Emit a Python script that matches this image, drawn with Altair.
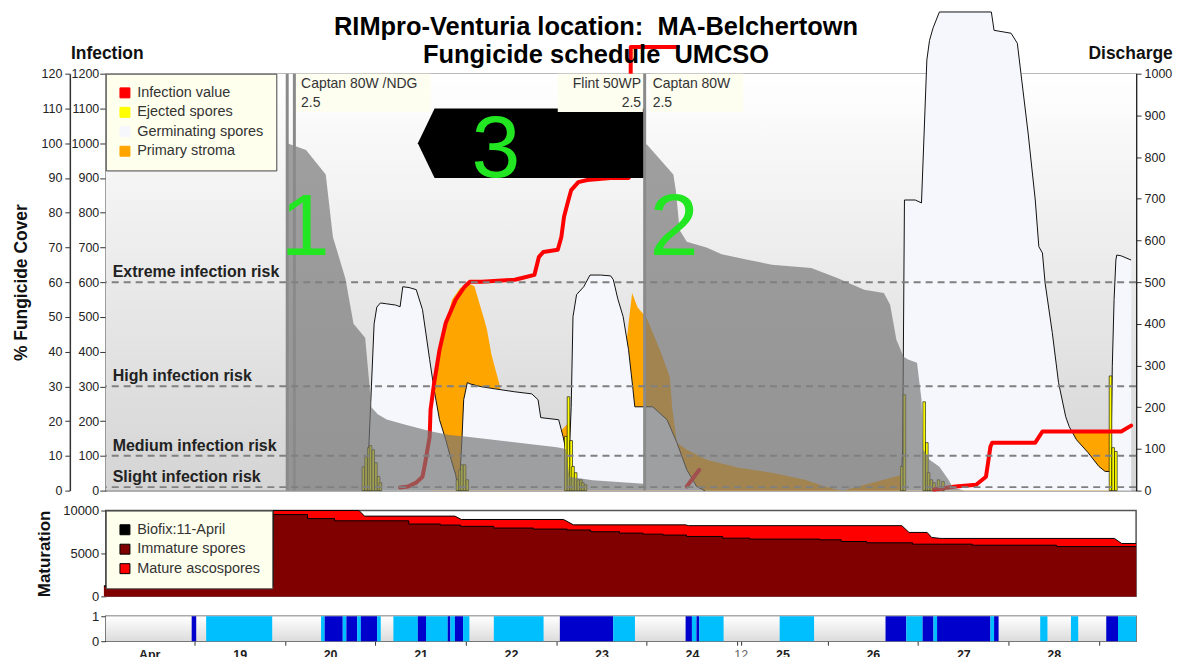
import altair as alt
import pandas as pd

FONT = "Liberation Sans"
X_DOMAIN = [0.02, 11.41]          # days after 18 April 00:00

# ---------------- main panel ----------------
# Fungicide cover (%), one piece per application
cover1_t = [1.99, 2.10, 2.20, 2.42, 2.50, 2.64, 2.73, 2.86, 2.93, 3.00, 3.10, 3.30, 3.60, 3.80, 4.00, 4.50, 5.00, 5.10, 5.14, 5.40, 5.97, 5.98]
cover1_v = [100, 99, 98, 91, 73, 61, 48, 44, 24, 22, 20.5, 19, 17, 16, 15.5, 14, 12.5, 12, 4, 3, 2, 0]
cover2_t = [5.98, 6.01, 6.30, 6.33, 6.37, 6.45, 6.67, 6.84, 7.14, 7.40, 7.84, 8.13, 8.43, 8.65, 8.72, 8.79, 8.87, 8.92, 9.02, 9.07, 9.09, 9.16, 9.27, 9.37, 9.42, 9.50, 9.55]
cover2_v = [100, 99.5, 91, 86, 75, 71.6, 70, 68, 66.4, 65, 64.1, 61.2, 57.8, 56.9, 53.5, 43.4, 38.5, 37.7, 36.8, 26.2, 11.8, 8.9, 6.9, 3.2, 0.9, 0.3, 0]

# Germinating spores (discharge scale)
germ1_t = [2.87, 2.90, 2.93, 2.96, 2.99, 3.03, 3.10, 3.20, 3.25, 3.28, 3.35, 3.43, 3.50, 3.58, 3.63, 3.69, 3.76, 3.82, 3.87, 3.89, 3.91]
germ1_v = [0, 100, 250, 400, 440, 450, 448, 445, 441, 489, 487, 482, 434, 314, 242, 170, 122, 74, 38, 14, 0]
germ2_t = [3.91, 3.94, 3.96, 4.00, 4.03, 4.16, 4.31, 4.53, 4.72, 4.79, 4.82, 5.02, 5.07, 5.10, 5.12, 5.14]
germ2_v = [0, 122, 218, 259, 256, 249, 244, 237, 232, 218, 175, 170, 129, 98, 50, 0]
germ3_t = [5.12, 5.14, 5.16, 5.18, 5.22, 5.30, 5.37, 5.49, 5.60, 5.63, 5.68, 5.74, 5.80, 5.85, 5.87, 6.07, 6.23, 6.34, 6.45, 6.56, 6.65]
germ3_v = [40, 98, 200, 417, 470, 489, 517, 517, 515, 506, 460, 417, 338, 242, 201, 201, 170, 115, 50, 10, 0]
germ4_t = [8.84, 8.86, 8.88, 9.00, 9.07, 9.10, 9.13, 9.16, 9.20, 9.27, 9.85, 9.88, 10.07, 10.14, 10.18, 10.26, 10.34, 10.38, 10.42, 10.45, 10.53, 10.60, 10.68, 10.72, 10.80, 10.93, 11.05, 11.12, 11.18, 11.19]
germ4_v = [0, 100, 697, 697, 690, 860, 1033, 1080, 1110, 1148, 1148, 1104, 1097, 1073, 1001, 858, 697, 585, 570, 498, 379, 259, 177, 153, 122, 91, 58, 46, 46, 0]
germ5_t = [11.18, 11.20, 11.22, 11.24, 11.25, 11.30, 11.41]
germ5_v = [0, 297, 458, 553, 565, 563, 553]

# Primary stroma (discharge scale)
stroma1_t = [3.60, 3.63, 3.69, 3.76, 3.83, 3.92, 4.02, 4.08, 4.14, 4.19, 4.22, 4.27, 4.33, 4.36, 4.38, 4.40]
stroma1_v = [240, 259, 338, 402, 458, 486, 496, 490, 446, 410, 386, 326, 278, 254, 230, 0]
stroma2_t = [5.75, 5.80, 5.84, 5.90, 5.98, 6.01, 6.15, 6.26, 6.29, 6.34, 6.45, 6.67, 7.03, 7.40, 7.77, 7.99, 8.13, 8.20]
stroma2_v = [300, 400, 474, 440, 420, 410, 338, 273, 194, 115, 98, 74, 55, 43, 26, 10, 2, 0]
stroma3_t = [10.62, 11.17, 11.18]
stroma3_v = [140, 140, 0]

# Ejected spores (discharge scale)
eject_t = [2.84, 2.87, 2.90, 2.92, 2.95, 2.98, 3.01, 3.03, 3.89, 3.92, 3.94, 3.97, 4.00,
           5.10, 5.13, 5.16, 5.18, 5.21, 5.24, 5.27, 5.29, 5.32, 8.85, 8.88,
           9.10, 9.13, 9.15, 9.18, 9.21, 9.26, 9.31, 11.18, 11.21, 11.24]
eject_v = [57, 81, 103, 108, 98, 67, 34, 19, 26, 50, 62, 62, 26,
           130, 225, 120, 58, 43, 26, 26, 19, 14, 58, 230,
           213, 115, 43, 26, 19, 26, 22, 275, 103, 94]

# Infection value
inf1_t = [3.25, 3.34, 3.43, 3.50, 3.53, 3.58, 3.59, 3.63, 3.69, 3.76, 3.87, 3.97, 4.03, 4.16, 4.53, 4.61, 4.75, 4.80, 4.85, 5.01, 5.05, 5.08, 5.12, 5.16, 5.24, 5.34, 5.60, 5.80, 5.82, 5.825, 6.35]
inf1_v = [9, 12, 23, 40, 80, 155, 233, 310, 405, 483, 549, 587, 601, 601, 607, 612, 621, 673, 687, 693, 730, 788, 828, 865, 888, 894, 900, 900, 906, 1277, 1277]
inf2_t = [6.45, 6.59]
inf2_v = [12, 60]
inf3_t = [9.21, 9.45, 9.68, 9.79, 9.84, 9.86, 10.34, 10.42, 11.30, 11.41]
inf3_v = [3, 12, 17, 40, 127, 138, 138, 170, 170, 187]

risk_levels = [10, 100, 300, 600]
risk_names = ["Slight infection risk", "Medium infection risk", "High infection risk", "Extreme infection risk"]

spray_t = [1.99, 2.07, 5.98]
label_t0 = [2.09, 5.01, 6.04]
label_t1 = [3.59, 5.96, 7.08]
label_tx = [2.145, 5.94, 6.07]
label_name = ["Captan 80W /NDG", "Flint 50WP", "Captan 80W"]
label_rate = ["2.5", "2.5", "2.5"]
label_side = ["left", "right", "left"]
label_lo = [1090, 1090, 1090]
label_hi = [1200, 1200, 1200]

arrow_t = [3.448, 3.635, 5.98]
arrow_lo = [1000, 900, 900]
arrow_hi = [1000, 1100, 1100]

note_text = ["1", "2", "3"]
note_t = [2.19, 6.31, 4.32]
note_v = [678, 678, 903]

main_series = ["Infection value", "Ejected spores", "Germinating spores", "Primary stroma"]
main_colors = ["#ff0000", "#ffff00", "#f6f7fd", "#ffa500"]

# ---------------- maturation panel ----------------
mat_tot_t = [0.0, 1.86, 1.87, 2.82, 2.88, 3.88, 3.95, 5.08, 5.19, 6.43, 6.46, 8.82, 8.90, 9.10, 9.15, 9.24, 9.27, 11.17, 11.25, 11.41]
mat_tot_v = [1200, 1200, 10000, 10000, 9350, 9350, 8960, 8960, 8330, 8330, 8240, 8240, 7450, 7450, 6860, 6760, 6750, 6750, 6160, 6160]
mat_imm_t = [0.0, 1.87, 2.25, 2.55, 3.37, 3.72, 3.94, 4.31, 4.75, 5.12, 5.38, 5.70, 5.96, 6.18, 6.44, 6.84, 7.14, 7.91, 8.15, 8.43, 8.94, 9.60, 10.53, 11.41]
mat_imm_v = [1200, 9530, 9060, 8800, 8430, 8310, 8160, 7960, 7840, 7730, 7530, 7370, 7250, 7140, 6980, 6780, 6670, 6590, 6390, 6240, 6080, 5960, 5800, 5800]
mat_series = ["Biofix:11-April", "Immature spores", "Mature ascospores"]
mat_colors = ["#000000", "#800000", "#ff0000"]

# ---------------- wetness strip ----------------
wet_t0 = [0.97, 1.13, 2.40, 2.44, 2.64, 2.68, 2.80, 2.84, 3.02, 3.20, 3.47, 3.56, 3.80, 3.83, 3.88, 3.97, 4.31, 5.04, 5.63, 6.43, 6.50, 6.55, 6.58, 7.47, 8.64, 8.87, 9.05, 9.17, 9.21, 9.80, 9.84, 10.35, 10.69, 11.08, 11.21]
wet_t1 = [1.02, 1.86, 2.44, 2.64, 2.68, 2.80, 2.84, 3.02, 3.06, 3.47, 3.56, 3.80, 3.83, 3.88, 3.97, 4.04, 4.86, 5.63, 5.87, 6.50, 6.55, 6.58, 6.85, 7.85, 8.87, 9.05, 9.17, 9.21, 9.80, 9.84, 9.89, 10.43, 10.77, 11.21, 11.41]
wet_kind = ["rain", "wet", "wet", "rain", "wet", "rain", "wet", "rain", "wet", "wet", "rain", "wet", "rain", "wet", "rain", "wet", "wet", "rain", "wet", "rain", "wet", "rain", "wet", "wet", "rain", "wet", "rain", "wet", "rain", "wet", "rain", "wet", "wet", "rain", "wet"]

day_axis_values = [0.5, 1, 1.5, 2, 2.5, 3, 3.5, 4, 4.5, 5, 5.5, 6, 6.5, 7, 7.04, 7.5, 8, 8.5, 9, 9.5, 10, 10.5, 11]


def long_frame(pieces, series=None):
    rows = []
    for name, ts, vs in pieces:
        for t, v in zip(ts, vs):
            row = {"piece": name, "t": t, "v": v}
            if series is not None:
                row["series"] = series
            rows.append(row)
    return pd.DataFrame(rows)


cover_df = long_frame([("c1", cover1_t, cover1_v), ("c2", cover2_t, cover2_v)])
germ_df = long_frame([("g1", germ1_t, germ1_v), ("g2", germ2_t, germ2_v), ("g3", germ3_t, germ3_v),
                      ("g4", germ4_t, germ4_v), ("g5", germ5_t, germ5_v)], "Germinating spores")
stroma_df = long_frame([("s1", stroma1_t, stroma1_v), ("s2", stroma2_t, stroma2_v), ("s3", stroma3_t, stroma3_v)], "Primary stroma")
eject_df = pd.DataFrame({"t": eject_t, "v": eject_v, "series": "Ejected spores"})
inf_df = long_frame([("i1", inf1_t, inf1_v), ("i2", inf2_t, inf2_v), ("i3", inf3_t, inf3_v)], "Infection value")
risk_df = pd.DataFrame({"v": risk_levels, "name": risk_names})
spray_df = pd.DataFrame({"t": spray_t})
label_df = pd.DataFrame({"t0": label_t0, "t1": label_t1, "tx": label_tx, "name": label_name,
                         "rate": label_rate, "side": label_side, "lo": label_lo, "hi": label_hi})
arrow_df = pd.DataFrame({"t": arrow_t, "lo": arrow_lo, "hi": arrow_hi})
note_df = pd.DataFrame({"text": note_text, "t": note_t, "v": note_v})
bg_df = pd.DataFrame({"k": [0]})

mat_tot_df = pd.DataFrame({"t": mat_tot_t, "v": mat_tot_v, "series": "Mature ascospores"})
mat_imm_df = pd.DataFrame({"t": mat_imm_t, "v": mat_imm_v, "series": "Immature spores"})
wet_df = pd.DataFrame({"t0": wet_t0, "t1": wet_t1, "kind": wet_kind, "lo": 0, "hi": 1})

W, H_MAIN, H_MAT, H_STRIP = 1033, 418, 86, 25


def xq(field="t"):
    return alt.X(f"{field}:Q", scale=alt.Scale(domain=X_DOMAIN, nice=False, zero=False), axis=None)


def inf_scale():
    return alt.Scale(domain=[0, 1200], nice=False, zero=False)


def dis_scale():
    return alt.Scale(domain=[0, 1000], nice=False, zero=False)


def cov_scale():
    return alt.Scale(domain=[0, 120], nice=False, zero=False)


def grad(bottom):
    return alt.LinearGradient(gradient="linear",
                              stops=[alt.GradientStop(color="#ffffff", offset=0),
                                     alt.GradientStop(color=bottom, offset=1)],
                              x1=0, x2=0, y1=0, y2=1)


def background(h, bottom):
    return alt.Chart(bg_df).mark_rect(color=grad(bottom)).encode(
        x=alt.value(0), x2=alt.value(W), y=alt.value(0), y2=alt.value(h))


label_style = dict(labelFont=FONT, labelFontSize=12.5, labelColor="#222222", tickColor="#333333", format="d")
title_style = dict(titleFont=FONT, titleFontSize=17.5, titleFontWeight="bold", titleColor="#111111")

legend_style = dict(title=None, orient="top-left", offset=0, padding=12, fillColor="#ffffee",
                    strokeColor="#444444", symbolType="square", symbolSize=100,
                    symbolStrokeColor="#000000", symbolStrokeWidth=1, symbolOpacity=1,
                    labelFont=FONT, labelFontSize=14.5, labelColor="#333333", rowPadding=3.5, labelOffset=5)

main_color = alt.Scale(domain=main_series, range=main_colors)

stroma = alt.Chart(stroma_df).mark_area(opacity=1).encode(
    x=xq(), y=alt.Y("v:Q", scale=dis_scale(), axis=None), detail="piece:N",
    color=alt.Color("series:N", scale=main_color, legend=alt.Legend(**legend_style)))

germ = alt.Chart(germ_df).mark_area(opacity=1).encode(
    x=xq(),
    y=alt.Y("v:Q", scale=dis_scale(),
            axis=alt.Axis(orient="right", values=list(range(0, 1001, 100)), title="Discharge",
                          titleAngle=0, titleX=-6, titleY=-15, titleAlign="center", titleBaseline="alphabetic",
                          domain=True, domainColor="#111111", domainWidth=1.5, tickSize=5, labelPadding=3,
                          grid=False, **label_style, **title_style)),
    detail="piece:N",
    color=alt.Color("series:N", scale=main_color, legend=None))

germ_edge = alt.Chart(germ_df).mark_line(color="#111111", strokeWidth=1).encode(
    x=xq(), y=alt.Y("v:Q", scale=dis_scale(), axis=None), detail="piece:N")

eject = alt.Chart(eject_df).mark_bar(size=2.6, stroke="#000000", strokeWidth=0.6).encode(
    x=xq(), y=alt.Y("v:Q", scale=dis_scale(), axis=None),
    color=alt.Color("series:N", scale=main_color, legend=None))

infection = alt.Chart(inf_df).mark_line(strokeWidth=4, strokeJoin="round", strokeCap="round").encode(
    x=xq(),
    y=alt.Y("v:Q", scale=inf_scale(),
            axis=alt.Axis(orient="left", values=list(range(0, 1201, 100)), title="Infection",
                          titleAngle=0, titleX=1, titleY=-15, titleAlign="center", titleBaseline="alphabetic",
                          domain=False, tickSize=6, labelPadding=1, grid=True, gridColor="#c8c8c8", gridWidth=1,
                          **label_style, **title_style)),
    detail="piece:N",
    color=alt.Color("series:N", scale=main_color, legend=None))

cover = alt.Chart(cover_df).mark_area(color="#757575", opacity=0.68).encode(
    x=xq(),
    y=alt.Y("v:Q", scale=cov_scale(),
            axis=alt.Axis(orient="left", offset=36, values=list(range(0, 121, 10)), title="% Fungicide Cover",
                          titleAngle=270, titleX=-48, titleY=209, titleAlign="center", titleBaseline="middle",
                          domain=True, domainColor="#333333", domainWidth=1.5, tickSize=5, labelPadding=3,
                          grid=False, **label_style, **title_style)),
    detail="piece:N")

sprays = alt.Chart(spray_df).mark_rule(color="#8a8a8a", strokeWidth=3).encode(x=xq())

risk_lines = alt.Chart(risk_df).mark_rule(color="#808080", strokeWidth=2, strokeDash=[7, 5]).encode(
    y=alt.Y("v:Q", scale=inf_scale(), axis=None))

risk_text = alt.Chart(risk_df).mark_text(align="left", baseline="alphabetic", dy=-5, font=FONT, fontSize=16,
                                         fontWeight="bold", color="#222222").encode(
    x=alt.value(7), y=alt.Y("v:Q", scale=inf_scale(), axis=None), text="name:N")

arrow = alt.Chart(arrow_df).mark_area(color="#000000").encode(
    x=xq(), y=alt.Y("hi:Q", scale=inf_scale(), axis=None), y2="lo:Q")

boxes = alt.Chart(label_df).mark_rect(color="#fdfdf0").encode(
    x=xq("t0"), x2="t1:Q", y=alt.Y("hi:Q", scale=inf_scale(), axis=None), y2="lo:Q")

text_common = dict(font=FONT, fontSize=14, color="#333333", baseline="top", lineBreak="\n", lineHeight=19)
names_left = alt.Chart(label_df).transform_filter("datum.side == 'left'").transform_calculate(
    txt="datum.name + '\\n' + datum.rate").mark_text(align="left", dy=3, **text_common).encode(
    x=xq("tx"), y=alt.Y("hi:Q", scale=inf_scale(), axis=None), text="txt:N")
names_right = alt.Chart(label_df).transform_filter("datum.side == 'right'").transform_calculate(
    txt="datum.name + '\\n' + datum.rate").mark_text(align="right", dy=3, **text_common).encode(
    x=xq("tx"), y=alt.Y("hi:Q", scale=inf_scale(), axis=None), text="txt:N")

notes = alt.Chart(note_df).mark_text(font=FONT, fontSize=88, color="#22e622", align="center",
                                     baseline="alphabetic").encode(
    x=xq(), y=alt.Y("v:Q", scale=inf_scale(), axis=None), text="text:N")

main = alt.layer(background(H_MAIN, "#d4d4d4"), stroma, germ, germ_edge, eject, infection, cover, arrow, boxes,
                 sprays, risk_lines, risk_text, names_left, names_right, notes).resolve_scale(
    y="independent").properties(
    width=W, height=H_MAIN,
    title=alt.Title(["RIMpro-Venturia location:\u00a0 MA-Belchertown", "Fungicide schedule\u00a0 UMCSO"],
                    font=FONT, fontSize=25.5, fontWeight="bold", color="#000000", anchor="middle",
                    offset=-59, lineHeight=28, dx=-25),
    view=alt.ViewBackground(stroke="#222222", strokeWidth=1.2))

# ---------------- maturation ----------------
mat_color = alt.Scale(domain=mat_series, range=mat_colors)

mat_y = alt.Scale(domain=[0, 10000], nice=False, zero=False)
mat_tot = alt.Chart(mat_tot_df).mark_area(opacity=1).encode(
    x=xq(),
    y=alt.Y("v:Q", scale=mat_y,
            axis=alt.Axis(orient="left", values=[0, 5000, 10000], title="Maturation", titleAngle=270,
                          titleX=-61, titleY=43, titleAlign="center", titleBaseline="middle", format="d",
                          domain=False, tickSize=5, labelPadding=2, grid=False,
                          labelFont=FONT, labelFontSize=13, labelColor="#222222", tickColor="#333333",
                          titleFont=FONT, titleFontSize=17, titleFontWeight="bold", titleColor="#111111")),
    color=alt.Color("series:N", scale=mat_color, legend=alt.Legend(**legend_style)))
mat_imm = alt.Chart(mat_imm_df).mark_area(opacity=1, interpolate="step-after").encode(
    x=xq(), y=alt.Y("v:Q", scale=mat_y), color=alt.Color("series:N", scale=mat_color, legend=None))
mat_tot_edge = alt.Chart(mat_tot_df).mark_line(color="#000000", strokeWidth=1).encode(
    x=xq(), y=alt.Y("v:Q", scale=mat_y))
mat_imm_edge = alt.Chart(mat_imm_df).mark_line(color="#000000", strokeWidth=1, interpolate="step-after").encode(
    x=xq(), y=alt.Y("v:Q", scale=mat_y))

maturation = alt.layer(mat_tot, mat_imm, mat_tot_edge, mat_imm_edge).properties(
    width=W, height=H_MAT, view=alt.ViewBackground(fill="#ffffff", stroke="#555555", strokeWidth=1.5))

# ---------------- wetness strip ----------------
day_axis = alt.Axis(values=day_axis_values,
                    labelExpr="datum.value == 0.5 ? 'Apr' : (abs(datum.value - 7.04) < 0.001 ? '12' : (datum.value % 1 == 0 ? '' : '' + (18 + floor(datum.value))))",
                    tickOpacity={"condition": {"test": "datum.value % 1 != 0.5", "value": 1}, "value": 0},
                    labelFontWeight={"condition": {"test": "abs(datum.value - 7.04) < 0.001", "value": "normal"}, "value": "bold"},
                    labelColor={"condition": {"test": "abs(datum.value - 7.04) < 0.001", "value": "#666666"}, "value": "#222222"},
                    labelFont=FONT, labelFontSize=12.5, tickSize=4, tickColor="#333333", domain=False, grid=False,
                    labelPadding=3, labelOverlap=False, labelFlush=False, title=None)
strip_bars = alt.Chart(wet_df).mark_rect().encode(
    x=alt.X("t0:Q", scale=alt.Scale(domain=X_DOMAIN, nice=False, zero=False), axis=day_axis),
    x2="t1:Q",
    y=alt.Y("lo:Q", scale=alt.Scale(domain=[0, 1], nice=False),
            axis=alt.Axis(values=[0, 1], title=None, domain=False, tickSize=5, labelPadding=2, grid=False, format="d",
                          labelFont=FONT, labelFontSize=13, labelColor="#222222", tickColor="#333333")),
    y2="hi:Q",
    color=alt.Color("kind:N", scale=alt.Scale(domain=["wet", "rain"], range=["#00bfff", "#0000cc"]), legend=None))
strip = alt.layer(background(H_STRIP, "#dcdcdc"), strip_bars).properties(
    width=W, height=H_STRIP, view=alt.ViewBackground(stroke="#555555", strokeWidth=1.5))

chart = alt.vconcat(main, maturation, strip, spacing=5).resolve_scale(
    color="independent", x="independent").properties(
    padding={"left": 4, "top": 0, "right": 0, "bottom": 0}
).configure(font=FONT)

chart.save("out.html", embed_options={"renderer": "svg", "actions": False})
